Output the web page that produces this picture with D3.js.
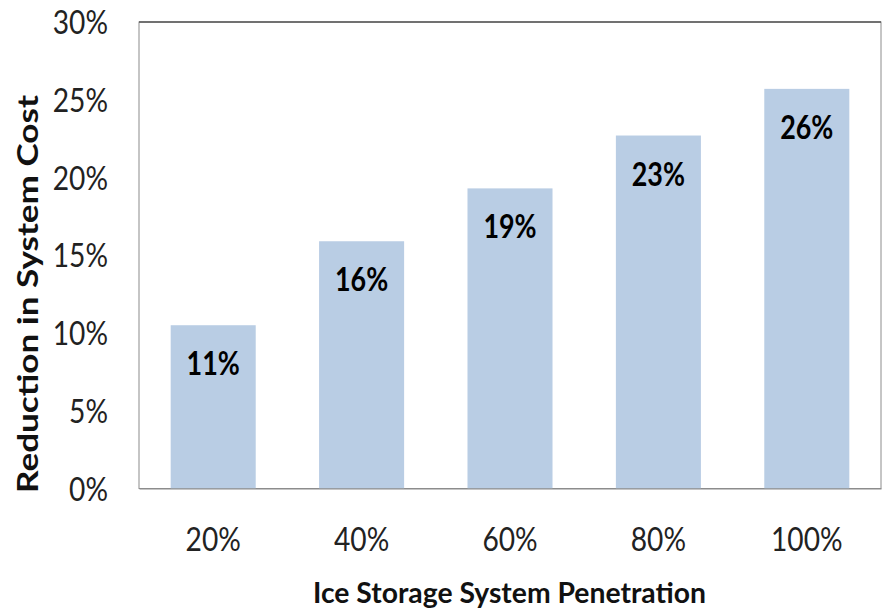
<!DOCTYPE html>
<html>
<head>
<meta charset="utf-8">
<script src="https://cdn.jsdelivr.net/npm/d3@7"></script>
<style>
  body { margin: 0; background: #fff; }
  svg text { font-family: Lato, "Open Sans", sans-serif; }
</style>
</head>
<body>
<svg id="chart" width="882" height="611"></svg>
<script>
// Ice storage penetration vs. reduction in system cost
const categories = ["20%", "40%", "60%", "80%", "100%"];
const reduction = [0.105, 0.159, 0.193, 0.227, 0.257];
const yTicks = [0, 0.05, 0.10, 0.15, 0.20, 0.25, 0.30];
const yTitle = "Reduction in System Cost";
const xTitle = "Ice Storage System Penetration";

const svg = d3.select("#chart");
const margin = { left: 139, right: 1, top: 22, bottom: 122.5 };
const W = 882, H = 611;

// squeeze glyphs horizontally so the tall type keeps its width
function condense(sel, factor) {
  sel.each(function () {
    const w = this.getComputedTextLength();
    d3.select(this).attr("textLength", w * factor).attr("lengthAdjust", "spacingAndGlyphs");
  });
}

const x = d3.scaleBand()
  .domain(categories)
  .range([margin.left, W - margin.right])
  .paddingInner(0.427)
  .paddingOuter(0.2135);

const y = d3.scaleLinear()
  .domain([0, 0.30])
  .range([H - margin.bottom, margin.top]);

// plot frame
svg.append("rect")
  .attr("x", margin.left).attr("y", margin.top)
  .attr("width", W - margin.right - margin.left)
  .attr("height", y(0) - margin.top)
  .attr("fill", "none").attr("stroke", "#8c8c8c").attr("stroke-width", 1);
svg.append("line")
  .attr("x1", margin.left).attr("x2", W - margin.right)
  .attr("y1", margin.top).attr("y2", margin.top)
  .attr("stroke", "#555").attr("stroke-width", 1.5);

// bars
svg.append("g").selectAll("rect")
  .data(categories)
  .join("rect")
  .attr("x", d => x(d))
  .attr("width", x.bandwidth())
  .attr("y", (d, i) => y(reduction[i]))
  .attr("height", (d, i) => y(0) - y(reduction[i]))
  .attr("fill", "#b9cde4");

// value labels inside the bars
const valueLabels = svg.append("g").selectAll("text")
  .data(categories)
  .join("text")
  .attr("x", d => x(d) + x.bandwidth() / 2)
  .attr("y", (d, i) => y(reduction[i]) + 50)
  .attr("text-anchor", "middle")
  .attr("font-size", 32)
  .attr("font-weight", "bold")
  .attr("fill", "#000")
  .text((d, i) => Math.round(reduction[i] * 100) + "%");
condense(valueLabels, 0.84);

// y axis
const yAxis = svg.append("g")
  .attr("transform", `translate(${margin.left},0)`)
  .call(d3.axisLeft(y).tickValues(yTicks).tickFormat(d3.format(".0%")).tickSize(0).tickPadding(31));
yAxis.select(".domain").remove();
const yLabels = yAxis.selectAll("text")
  .attr("font-size", 32)
  .attr("fill", "#222")
  .attr("dy", 11.5);
condense(yLabels, 0.88);

// x axis
const xAxis = svg.append("g")
  .attr("transform", `translate(0,${y(0)})`)
  .call(d3.axisBottom(x).tickSize(0).tickPadding(0));
xAxis.select(".domain").attr("stroke", "#8c8c8c");
const xLabels = xAxis.selectAll("text")
  .attr("font-size", 32)
  .attr("fill", "#222")
  .attr("y", 62)
  .attr("dy", 0);
condense(xLabels, 0.88);

// axis titles
svg.append("text")
  .attr("transform", `translate(38,294) rotate(-90)`)
  .attr("text-anchor", "middle")
  .attr("font-size", 28)
  .attr("font-weight", "bold")
  .attr("fill", "#111")
  .attr("textLength", 398)
  .attr("lengthAdjust", "spacingAndGlyphs")
  .text(yTitle);

svg.append("text")
  .attr("x", 313 + 393 / 2)
  .attr("y", 603)
  .attr("text-anchor", "middle")
  .attr("font-size", 29)
  .attr("font-weight", "bold")
  .attr("fill", "#111")
  .attr("textLength", 393)
  .attr("lengthAdjust", "spacingAndGlyphs")
  .text(xTitle);
</script>
</body>
</html>
